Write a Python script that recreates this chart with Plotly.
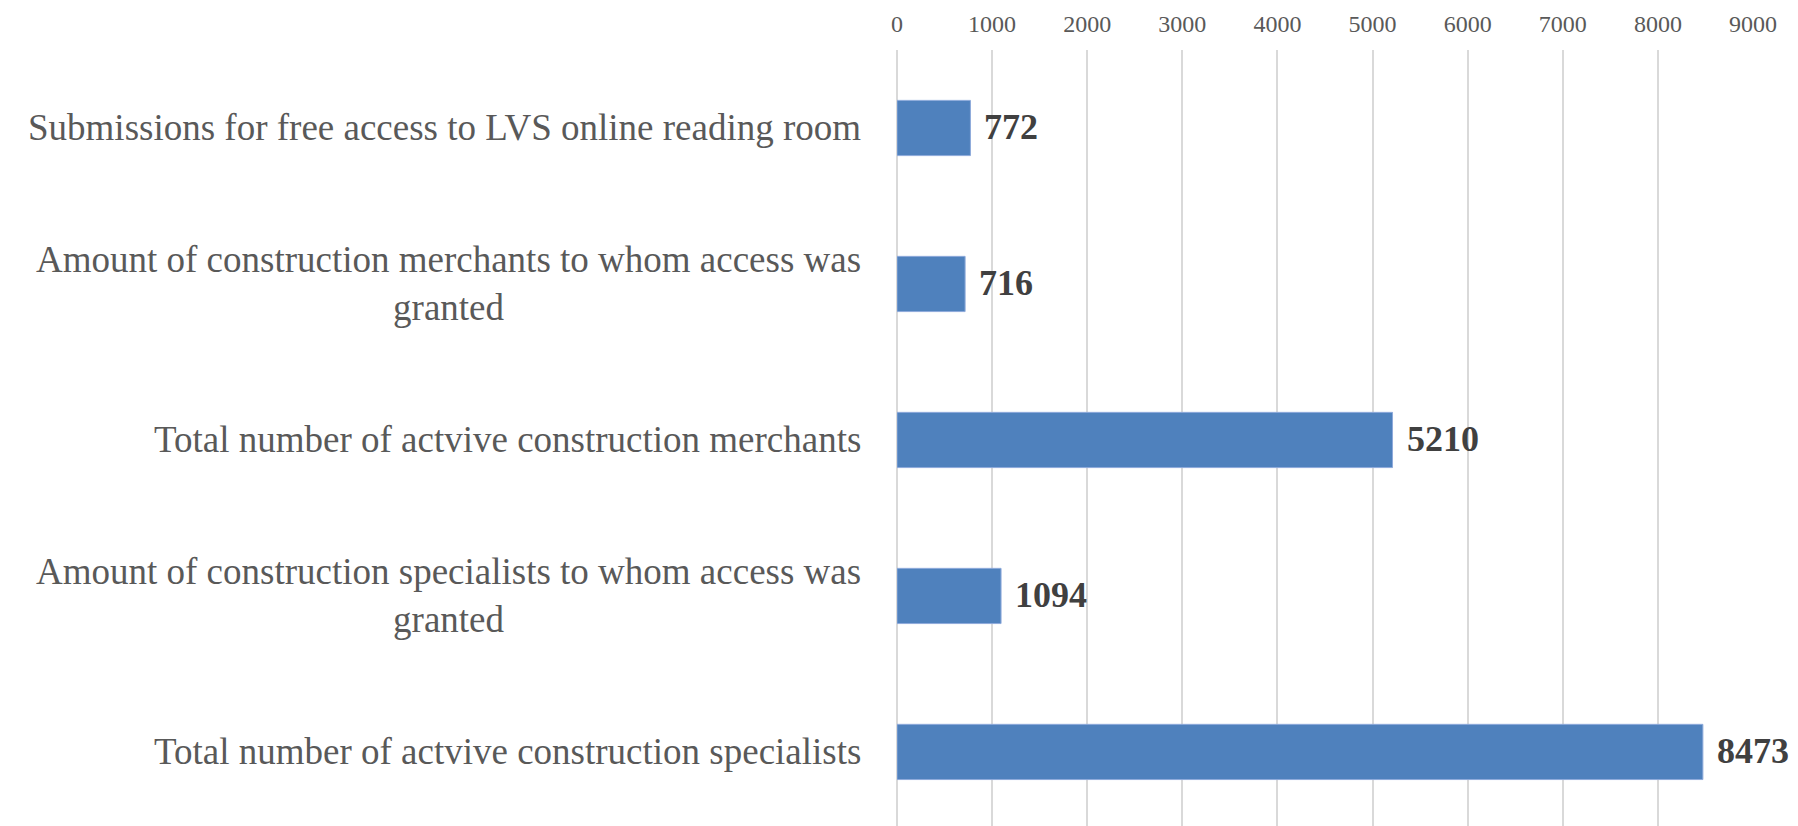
import plotly.graph_objects as go

categories = [
    "Submissions for free access to LVS online reading room",
    "Amount of construction merchants to whom access was<br>granted",
    "Total number of actvive construction merchants",
    "Amount of construction specialists to whom access was<br>granted",
    "Total number of actvive construction specialists",
]
values = [772, 716, 5210, 1094, 8473]
tick_vals = [0, 1000, 2000, 3000, 4000, 5000, 6000, 7000, 8000, 9000]

FONT = "Liberation Serif, Times New Roman, serif"

fig = go.Figure(go.Bar(
    x=values, y=list(range(len(categories))), orientation="h",
    width=0.354,
    marker=dict(color="#4F81BD", line=dict(color="#8EAADB", width=1)),
    hoverinfo="skip",
))

annotations = []
for i, (c, v) in enumerate(zip(categories, values)):
    annotations.append(dict(
        x=0, xref="paper", y=i, yref="y", text=c, showarrow=False,
        xanchor="right", yanchor="middle", align="center", xshift=-34,
        font=dict(family=FONT, size=37, color="#595959"),
    ))
    annotations.append(dict(
        x=v, xref="x", y=i, yref="y", text="<b>%d</b>" % v, showarrow=False,
        xanchor="left", yanchor="middle", xshift=12, yshift=1,
        font=dict(family=FONT, size=36, color="#404040"),
    ))

fig.update_layout(
    width=1798, height=826,
    margin=dict(l=889, r=53, t=42, b=0),
    paper_bgcolor="white", plot_bgcolor="white",
    showlegend=False,
    annotations=annotations,
    xaxis=dict(
        side="top", range=[0, 9000], tickvals=tick_vals,
        ticktext=[str(t) for t in tick_vals],
        showgrid=True, gridcolor="#D9D9D9", gridwidth=1.5,
        zeroline=True, zerolinecolor="#D9D9D9", zerolinewidth=1.5,
        showline=False, ticks="", ticklabelstandoff=12,
        tickfont=dict(family=FONT, size=24, color="#595959"),
        fixedrange=True,
    ),
    yaxis=dict(
        range=[4.526, -0.5], showticklabels=False, showgrid=False,
        zeroline=False, showline=False, ticks="", fixedrange=True,
    ),
)

fig.write_html("out.html")
